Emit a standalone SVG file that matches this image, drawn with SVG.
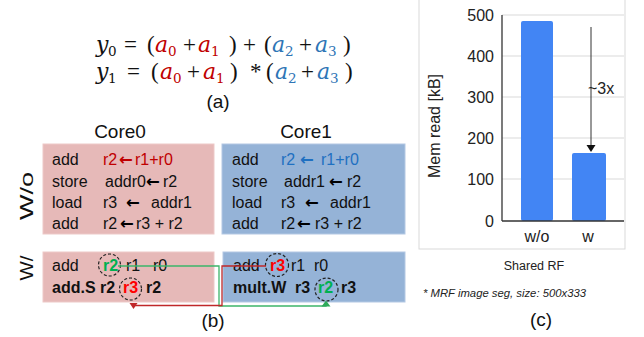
<svg xmlns="http://www.w3.org/2000/svg" width="644" height="337" viewBox="0 0 644 337">
  <defs>
    <style>
      .eq { font-family: "Liberation Serif", serif; font-size: 23px; fill: #111; }
      .v { font-family: "DejaVu Serif", "Liberation Serif", serif; font-style: italic; font-size: 22px; }
      .sub { font-family: "DejaVu Serif", "Liberation Serif", serif; font-size: 13.5px; }
      .red { fill: #C00000; }
      .blu { fill: #2E75B6; }
      .lbl { font-family: "Liberation Sans", Arial, sans-serif; font-size: 19px; fill: #111; }
      .code { font-family: "Liberation Sans", Arial, sans-serif; font-size: 16px; fill: #111; }
      .arr { font-family: "DejaVu Sans", sans-serif; font-weight: bold; font-size: 16.5px; }
      .b { font-weight: bold; }
      .cr { fill: #C00000; }
      .cb { fill: #1F70C1; }
      .hr { fill: #FF0000; }
      .hg { fill: #00B050; }
      .boxR { fill: #E6B9B8; stroke: #EDC9C8; stroke-width: 1; }
      .boxB { fill: #95B3D7; stroke: #B3C8E3; stroke-width: 1; }
      .ring { fill: none; stroke: #222; stroke-width: 1.2; stroke-dasharray: 3 2; }
      .axis { font-family: "Liberation Sans", Arial, sans-serif; font-size: 16px; fill: #222; }
      .grid { stroke: #D9D9D9; stroke-width: 1; }
      .bar { fill: #4285F4; }
    </style>
  </defs>

  <!-- (a) equations -->
  <g id="equations">
    <text class="eq" y="52">
      <tspan class="v" x="96">y</tspan><tspan class="sub" x="108" dy="3.5">0</tspan>
      <tspan x="124" dy="-3.5">=</tspan>
      <tspan x="147">(</tspan>
      <tspan class="v red" x="155">a</tspan><tspan class="sub red" x="168" dy="3.5">0</tspan>
      <tspan x="183" dy="-3.5">+</tspan>
      <tspan class="v red" x="198">a</tspan><tspan class="sub red" x="211" dy="3.5">1</tspan>
      <tspan x="229" dy="-3.5">)</tspan>
      <tspan x="243">+</tspan>
      <tspan x="264">(</tspan>
      <tspan class="v blu" x="272">a</tspan><tspan class="sub blu" x="285" dy="3.5">2</tspan>
      <tspan x="299" dy="-3.5">+</tspan>
      <tspan class="v blu" x="315">a</tspan><tspan class="sub blu" x="328" dy="3.5">3</tspan>
      <tspan x="343" dy="-3.5">)</tspan>
    </text>
    <text class="eq" y="79">
      <tspan class="v" x="96">y</tspan><tspan class="sub" x="108" dy="3.5">1</tspan>
      <tspan x="127" dy="-3.5">=</tspan>
      <tspan x="151">(</tspan>
      <tspan class="v red" x="160">a</tspan><tspan class="sub red" x="173" dy="3.5">0</tspan>
      <tspan x="187" dy="-3.5">+</tspan>
      <tspan class="v red" x="203">a</tspan><tspan class="sub red" x="216" dy="3.5">1</tspan>
      <tspan x="230" dy="-3.5">)</tspan>
      <tspan x="250">*</tspan>
      <tspan x="266">(</tspan>
      <tspan class="v blu" x="275">a</tspan><tspan class="sub blu" x="288" dy="3.5">2</tspan>
      <tspan x="301" dy="-3.5">+</tspan>
      <tspan class="v blu" x="317">a</tspan><tspan class="sub blu" x="330" dy="3.5">3</tspan>
      <tspan x="345" dy="-3.5">)</tspan>
    </text>
    <text class="lbl" x="218" y="108" text-anchor="middle">(a)</text>
  </g>

  <!-- (b) row labels and core titles -->
  <g id="labels-b">
    <text class="lbl" font-size="25" text-anchor="middle" textLength="48" lengthAdjust="spacingAndGlyphs" transform="translate(33,196) rotate(-90)">W/o</text>
    <text class="lbl" font-size="25" text-anchor="middle" textLength="25" lengthAdjust="spacingAndGlyphs" transform="translate(33,268) rotate(-90)">W/</text>
    <text class="lbl" x="120" y="138" text-anchor="middle">Core0</text>
    <text class="lbl" x="306" y="138" text-anchor="middle">Core1</text>
    <text class="lbl" x="213" y="327" text-anchor="middle">(b)</text>
  </g>

  <!-- Core0 without shared RF -->
  <g id="core0-wo">
    <rect class="boxR" x="43" y="144" width="171" height="90"/>
    <text class="code" x="52" y="165">add</text>
    <text class="code cr" x="103" y="165">r2</text>
    <text class="arr cr" x="119" y="165">←</text>
    <text class="code cr" x="135" y="165">r1+r0</text>
    <text class="code" x="52" y="187">store</text>
    <text class="code" x="105" y="187">addr0</text>
    <text class="arr" x="146" y="187">←</text>
    <text class="code" x="163" y="187">r2</text>
    <text class="code" x="52" y="208">load</text>
    <text class="code" x="103" y="208">r3</text>
    <text class="arr" x="126" y="208">←</text>
    <text class="code" x="151" y="208">addr1</text>
    <text class="code" x="52" y="229">add</text>
    <text class="code" x="103" y="229">r2</text>
    <text class="arr" x="120" y="229">←</text>
    <text class="code" x="136" y="229">r3 + r2</text>
  </g>

  <!-- Core1 without shared RF -->
  <g id="core1-wo">
    <rect class="boxB" x="222" y="144" width="183" height="90"/>
    <text class="code" x="232" y="165">add</text>
    <text class="code cb" x="281" y="165">r2</text>
    <text class="arr cb" x="300" y="165">←</text>
    <text class="code cb" x="321" y="165">r1+r0</text>
    <text class="code" x="232" y="187">store</text>
    <text class="code" x="284" y="187">addr1</text>
    <text class="arr" x="329" y="187">←</text>
    <text class="code" x="347" y="187">r2</text>
    <text class="code" x="232" y="208">load</text>
    <text class="code" x="281" y="208">r3</text>
    <text class="arr" x="305" y="208">←</text>
    <text class="code" x="330" y="208">addr1</text>
    <text class="code" x="232" y="229">add</text>
    <text class="code" x="281" y="229">r2</text>
    <text class="arr" x="297" y="229">←</text>
    <text class="code" x="315" y="229">r3 + r2</text>
  </g>

  <!-- Core0 with shared RF -->
  <g id="core0-w">
    <rect class="boxR" x="43" y="252" width="171" height="50"/>
    <text class="code" x="52" y="271">add</text>
    <text class="code b hg" x="103" y="271">r2</text>
    <text class="code" x="126" y="271">r1</text>
    <text class="code" x="153" y="271">r0</text>
    <text class="code b" x="52" y="293">add.S</text>
    <text class="code b" x="100" y="293">r2</text>
    <text class="code b hr" x="123" y="293">r3</text>
    <text class="code b" x="146" y="293">r2</text>
    <circle class="ring" cx="109.5" cy="265" r="11"/>
    <circle class="ring" cx="130.5" cy="289" r="11"/>
  </g>

  <!-- Core1 with shared RF -->
  <g id="core1-w">
    <rect class="boxB" x="223" y="252" width="182" height="50"/>
    <text class="code" x="233" y="271">add</text>
    <text class="code b hr" x="270" y="271">r3</text>
    <text class="code" x="291" y="271">r1</text>
    <text class="code" x="314" y="271">r0</text>
    <text class="code b" x="233" y="293">mult.W</text>
    <text class="code b" x="295" y="293">r3</text>
    <text class="code b hg" x="318" y="293">r2</text>
    <text class="code b" x="341" y="293">r3</text>
    <circle class="ring" cx="277" cy="265" r="11.5"/>
    <circle class="ring" cx="326.5" cy="289.5" r="11.5"/>
  </g>

  <!-- register forwarding connectors -->
  <g id="connectors" fill="none" stroke-width="1.3">
    <path d="M118,266 H219 V306 H326 V303" stroke="#3DB56A"/>
    <polygon points="321.5,306.5 330.5,306.5 326,300.5" fill="#2EAA5A" stroke="none"/>
    <path d="M266,266 H222 V305.5 H134" stroke="#C0282A"/>
    <polygon points="129.5,303 137.5,303 133.5,309" fill="#C0282A" stroke="none"/>
  </g>

  <!-- (c) bar chart -->
  <g id="chart">
    <rect x="419" y="-1" width="206" height="250" fill="#FFFFFF" stroke="#D9D9D9" stroke-width="1"/>
    <line class="grid" x1="502" y1="15" x2="624" y2="15"/>
    <line class="grid" x1="502" y1="56" x2="624" y2="56"/>
    <line class="grid" x1="502" y1="97" x2="624" y2="97"/>
    <line class="grid" x1="502" y1="138" x2="624" y2="138"/>
    <line class="grid" x1="502" y1="179" x2="624" y2="179"/>
    <rect class="bar" x="521" y="21" width="32" height="200" rx="2"/>
    <rect class="bar" x="572" y="153" width="34" height="68" rx="2"/>
    <line x1="502" y1="15" x2="502" y2="221" stroke="#333" stroke-width="1.3"/>
    <line x1="502" y1="221" x2="624" y2="221" stroke="#333" stroke-width="1.3"/>
    <text class="axis" x="494" y="21" text-anchor="end">500</text>
    <text class="axis" x="494" y="62" text-anchor="end">400</text>
    <text class="axis" x="494" y="103" text-anchor="end">300</text>
    <text class="axis" x="494" y="144" text-anchor="end">200</text>
    <text class="axis" x="494" y="185" text-anchor="end">100</text>
    <text class="axis" x="494" y="227" text-anchor="end">0</text>
    <text class="axis" x="537" y="242" text-anchor="middle">w/o</text>
    <text class="axis" x="588" y="242" text-anchor="middle">w</text>
    <text class="axis" text-anchor="middle" transform="translate(440,126) rotate(-90)">Mem read [kB]</text>
    <line x1="591" y1="27" x2="591" y2="146" stroke="#333" stroke-width="1"/>
    <polygon points="586.5,145 595.5,145 591,152" fill="#111"/>
    <text class="axis" x="588" y="94">~3x</text>
  </g>

  <g id="chart-notes">
    <text x="534" y="270" text-anchor="middle" font-family="Liberation Sans, Arial, sans-serif" font-size="12.5" fill="#222">Shared RF</text>
    <text x="423" y="297" font-family="Liberation Sans, Arial, sans-serif" font-size="11" font-style="italic" fill="#222" textLength="163" lengthAdjust="spacingAndGlyphs">*  MRF image seg, size: 500x333</text>
    <text class="lbl" x="541" y="326" text-anchor="middle">(c)</text>
  </g>
</svg>
